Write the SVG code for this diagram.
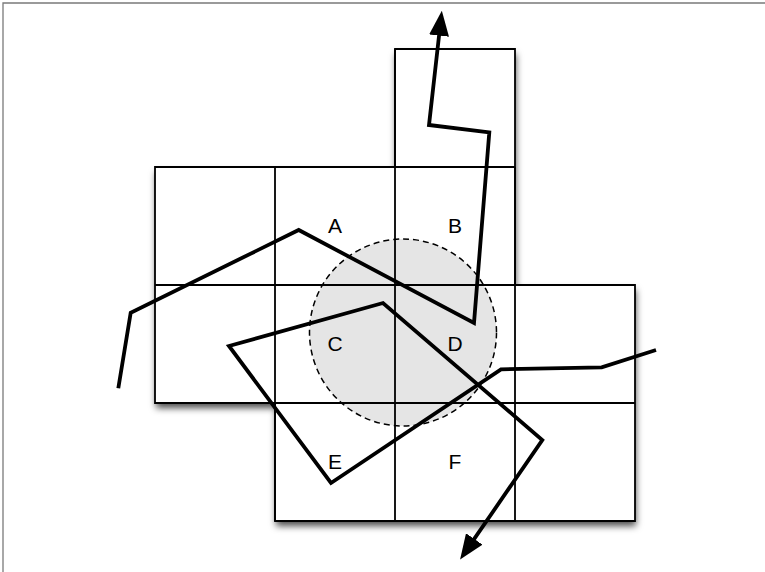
<svg xmlns="http://www.w3.org/2000/svg" width="765" height="572" viewBox="0 0 765 572">
  <style>
    .grid { fill: none; stroke: #000; stroke-width: 1.8; }
    .route { fill: none; stroke: #000; stroke-width: 3.8; stroke-linejoin: miter; stroke-linecap: butt; }
    .lbl { font-family: "Liberation Sans", Arial, sans-serif; font-size: 21px; fill: #000; text-anchor: middle; }
  </style>
  <defs>
    <filter id="shadow" x="-10%" y="-10%" width="130%" height="130%">
      <feDropShadow dx="1" dy="5" stdDeviation="3.5" flood-color="#000" flood-opacity="0.7"/>
    </filter>
    <marker id="arrow" markerUnits="userSpaceOnUse" markerWidth="25" markerHeight="20" refX="4" refY="10" orient="auto">
      <path d="M0,0 L25,10 L0,20 z" fill="#000"/>
    </marker>
  </defs>
  <rect x="0" y="0" width="765" height="572" fill="#fff"/>
  <path d="M3,572 V3 H765" fill="none" stroke="#7a7a7a" stroke-width="1.3"/>

  <g id="grid-shape">
    <path d="M395,49 H515 V285 H635 V521 H275 V403 H155 V167 H395 Z" fill="#fff" filter="url(#shadow)"/>
  </g>

  <g id="zone">
    <circle cx="403" cy="332.5" r="93.5" fill="#e5e5e5" stroke="#000" stroke-width="1.5" stroke-dasharray="6,4"/>
  </g>

  <g id="grid-lines">
    <path class="grid" d="M395,49 H515 V285 H635 V521 H275 V403 H155 V167 H395 Z"/>
    <path class="grid" d="M155,285 H635 M155,403 H635 M155,167 H515 M275,167 V521 M395,49 V521 M515,167 V521 M395,167 H515"/>
  </g>

  <g id="labels">
    <text class="lbl" x="335" y="233">A</text>
    <text class="lbl" x="455" y="233">B</text>
    <text class="lbl" x="335" y="351">C</text>
    <text class="lbl" x="455" y="351">D</text>
    <text class="lbl" x="335" y="469">E</text>
    <text class="lbl" x="455" y="469">F</text>
  </g>

  <g id="connectors">
    <path class="route" d="M118.3,388.3 L130.7,312.7 L298.7,230 L474,323 L489.3,132.3 L429,125 L439.5,31.6" marker-end="url(#arrow)"/>
    <path class="route" d="M656,350 L601.7,367.3 L501,369.3 L331,483 L229,346 L383,303 L542.3,440 L472,542.2" marker-end="url(#arrow)"/>
  </g>
</svg>
